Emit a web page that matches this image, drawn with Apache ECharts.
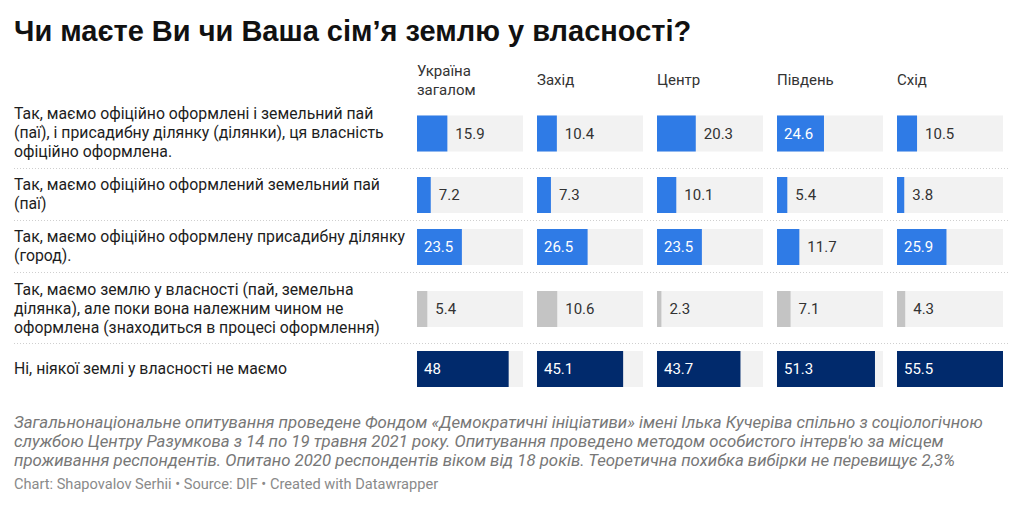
<!DOCTYPE html>
<html><head><meta charset="utf-8">
<script src="https://cdn.jsdelivr.net/npm/echarts@6/dist/echarts.min.js"></script>
<style>html,body{margin:0;padding:0;background:#fff}#c{width:1024px;height:507px}</style>
</head><body><div id="c"></div>
<script>
const title = "Чи маєте Ви чи Ваша сім’я землю у власності?";
const regions = ["Україна\nзагалом", "Захід", "Центр", "Південь", "Схід"];
const categories = [
  "Так, маємо офіційно оформлені і земельний пай\n(паї), і присадибну ділянку (ділянки), ця власність\nофіційно оформлена.",
  "Так, маємо офіційно оформлений земельний пай\n(паї)",
  "Так, маємо офіційно оформлену присадибну ділянку\n(город).",
  "Так, маємо землю у власності (пай, земельна\nділянка), але поки вона належним чином не\nоформлена (знаходиться в процесі оформлення)",
  "Ні, ніякої землі у власності не маємо"
];
const ukraine = [15.9, 7.2, 23.5, 5.4, 48];
const zakhid  = [10.4, 7.3, 26.5, 10.6, 45.1];
const tsentr  = [20.3, 10.1, 23.5, 2.3, 43.7];
const pivden  = [24.6, 5.4, 11.7, 7.1, 51.3];
const skhid   = [10.5, 3.8, 25.9, 4.3, 55.5];
const notes = "Загальнонаціональне опитування проведене Фондом «Демократичні ініціативи» імені Ілька Кучеріва спільно з соціологічною\nслужбою Центру Разумкова з 14 по 19 травня 2021 року. Опитування проведено методом особистого інтерв'ю за місцем\nпроживання респондентів. Опитано 2020 респондентів віком від 18 років. Теоретична похибка вибірки не перевищує 2,3%";
const credit = "Chart: Shapovalov Serhii • Source: DIF • Created with Datawrapper";

const columns = [ukraine, zakhid, tsentr, pivden, skhid];
const rowColors = ['#2f7be6', '#2f7be6', '#2f7be6', '#c4c4c4', '#012a6c'];
const rowCenters = [133.5, 195, 247, 309, 369];
const sepY = [168, 220, 272, 343];
const colLeft = 417, colStep = 120, colWidth = 106, barH = 36;
const maxVal = Math.max(...columns.flat());

const grids = [], xAxes = [], yAxes = [], series = [];
columns.forEach((vals, c) => {
  vals.forEach((v, r) => {
    const i = grids.length;
    grids.push({left: colLeft + c * colStep, width: colWidth, top: rowCenters[r] - barH / 2, height: barH, containLabel: false});
    xAxes.push({gridIndex: i, type: 'value', min: 0, max: maxVal, show: false});
    yAxes.push({gridIndex: i, type: 'category', data: [categories[r]], show: false});
    const inside = v >= 22;
    series.push({
      type: 'bar', xAxisIndex: i, yAxisIndex: i, data: [v], barWidth: barH,
      showBackground: true, backgroundStyle: {color: '#f2f2f2'},
      itemStyle: {color: rowColors[r]}, silent: true, animation: false,
      label: {show: true, position: inside ? 'insideLeft' : 'right', distance: inside ? 7 : 8,
        color: inside ? '#ffffff' : '#333333', fontFamily: 'Roboto', fontSize: 15}
    });
  });
});

const graphics = [];
graphics.push({type: 'text', x: 14, y: 31, style: {text: title, font: 'bold 29px "Liberation Sans", Arial', fill: '#111', verticalAlign: 'middle', align: 'left'}});
regions.forEach((t, c) => {
  graphics.push({type: 'text', x: colLeft + c * colStep, y: 80, style: {text: t, fontFamily: 'Roboto', fontSize: 15, lineHeight: 19, fill: '#333', verticalAlign: 'middle', align: 'left'}});
});
categories.forEach((t, r) => {
  graphics.push({type: 'text', x: 14, y: rowCenters[r] - 1, style: {text: t, fontFamily: 'Roboto', fontSize: 15.8, lineHeight: 19, fill: '#1d1d1d', verticalAlign: 'middle', align: 'left'}});
});
sepY.forEach(y => {
  graphics.push({type: 'line', shape: {x1: 14, y1: y + 0.5, x2: 1010, y2: y + 0.5}, style: {stroke: '#cfcfcf', lineWidth: 1, lineDash: [1, 2]}});
});
graphics.push({type: 'text', x: 14, y: 441, style: {text: notes, fontFamily: 'Roboto', fontStyle: 'italic', fontSize: 16.8, lineHeight: 19, fill: '#777', verticalAlign: 'middle', align: 'left'}});
graphics.push({type: 'text', x: 14, y: 484, style: {text: credit, fontFamily: 'Roboto', fontSize: 14.6, fill: '#8a8a8a', verticalAlign: 'middle', align: 'left'}});

const chart = echarts.init(document.getElementById('c'), null, {renderer: 'svg'});
chart.setOption({
  animation: false,
  grid: grids, xAxis: xAxes, yAxis: yAxes, series: series,
  graphic: graphics
});
</script></body></html>
